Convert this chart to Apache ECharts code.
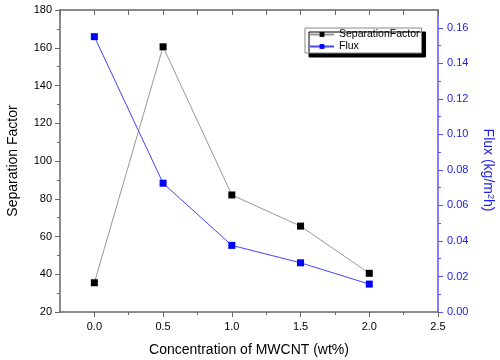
<!DOCTYPE html>
<html><head><meta charset="utf-8">
<script src="https://cdn.jsdelivr.net/npm/echarts@6/dist/echarts.min.js"></script>
<style>html,body{margin:0;padding:0;background:#fff}#c{width:500px;height:360px}</style>
</head><body><div id="c"></div>
<script>
var concentrations = [0.0, 0.5, 1.0, 1.5, 2.0];
var separationFactor = [35.5, 160.5, 82, 65.5, 40.5];
var flux = [0.155, 0.0725, 0.0375, 0.0277, 0.0157];
var xMajorTicks = [0, 0.5, 1.0, 1.5, 2.0, 2.5];
var xMinorTicks = [0.25, 0.75, 1.25, 1.75, 2.25];
var fluxMajorTicks = [0, 0.02, 0.04, 0.06, 0.08, 0.10, 0.12, 0.14, 0.16];
var fluxMinorTicks = [0.01, 0.03, 0.05, 0.07, 0.09, 0.11, 0.13, 0.15];

var FONT = 'Liberation Sans';
var GRAY = '#666';
var BLUE = '#5555ff';
function makeGrid() {
  return {left: 60, right: 62, top: 10, bottom: 48, containLabel: false, outerBoundsMode: 'none'};
}

var chart = echarts.init(document.getElementById('c'), null, {renderer: 'canvas'});
chart.setOption({
  animation: false,
  backgroundColor: '#fff',
  grid: [makeGrid(), makeGrid()],
  legend: {
    left: 305, top: 28,
    orient: 'vertical',
    itemGap: 1,
    itemWidth: 24, itemHeight: 6,
    padding: [1, 2, 1, 4],
    backgroundColor: '#fff',
    borderColor: '#888', borderWidth: 1,
    shadowColor: '#000', shadowBlur: 0, shadowOffsetX: 4, shadowOffsetY: 4,
    textStyle: {fontFamily: FONT, fontSize: 10.5, lineHeight: 10, color: '#000'},
    data: ['SeparationFactor', 'Flux']
  },
  xAxis: [{
    gridIndex: 0, type: 'value', position: 'bottom', min: -0.25, max: 2.5,
    axisLine: {show: true, onZero: false, lineStyle: {color: GRAY, width: 1.5}},
    axisTick: {show: true, inside: false, length: 5, customValues: xMajorTicks, lineStyle: {color: GRAY}},
    axisLabel: {show: true, margin: 9, customValues: xMajorTicks, fontFamily: FONT, fontSize: 11, color: '#000',
      formatter: function(v){ return v.toFixed(1); }},
    splitLine: {show: false},
    name: 'Concentration of MWCNT (wt%)', nameLocation: 'middle', nameGap: 31,
    nameTextStyle: {fontFamily: FONT, fontSize: 14, color: '#000'}
  }, {
    gridIndex: 1, type: 'value', position: 'bottom', min: -0.25, max: 2.5,
    axisLine: {show: false, onZero: false},
    axisTick: {show: true, inside: false, length: 3, customValues: xMinorTicks, lineStyle: {color: GRAY}},
    axisLabel: {show: false},
    splitLine: {show: false}
  }, {
    gridIndex: 1, type: 'value', position: 'top', min: -0.25, max: 2.5, interval: 0.25,
    axisLine: {show: true, onZero: false, lineStyle: {color: GRAY, width: 1.5}},
    axisTick: {show: true, inside: true, length: 5, lineStyle: {color: GRAY}},
    axisLabel: {show: false},
    splitLine: {show: false}
  }],
  yAxis: [{
    gridIndex: 0, type: 'value', position: 'left', min: 20, max: 180, interval: 20,
    axisLine: {show: true, onZero: false, lineStyle: {color: GRAY, width: 1.5}},
    axisTick: {show: true, inside: false, length: 5, lineStyle: {color: GRAY}},
    minorTick: {show: true, splitNumber: 2, length: 3, lineStyle: {color: GRAY}},
    axisLabel: {margin: 8, fontFamily: FONT, fontSize: 11, color: '#000'},
    splitLine: {show: false},
    name: 'Separation Factor', nameLocation: 'middle', nameGap: 40,
    nameTextStyle: {fontFamily: FONT, fontSize: 14, color: '#000'}
  }, {
    gridIndex: 0, type: 'value', position: 'right', min: 0, max: 0.17,
    axisLine: {show: true, onZero: false, lineStyle: {color: BLUE, width: 1.5}},
    axisTick: {show: true, inside: false, length: 5, customValues: fluxMajorTicks, lineStyle: {color: BLUE}},
    axisLabel: {margin: 9, customValues: fluxMajorTicks, fontFamily: FONT, fontSize: 11, color: '#2222ee',
      formatter: function(v){ return v.toFixed(2); }},
    splitLine: {show: false},
    name: 'Flux (kg/m{sup|2}h)', nameLocation: 'middle', nameGap: 42, nameRotate: -90,
    nameTextStyle: {fontFamily: FONT, fontSize: 14, color: '#2222ee', padding: [0, 0, 0, 18],
      rich: {sup: {fontFamily: FONT, fontSize: 9, color: '#2222ee', verticalAlign: 'top', padding: [0,0,6,0]}}}
  }, {
    gridIndex: 1, type: 'value', position: 'right', min: 0, max: 0.17,
    axisLine: {show: false, onZero: false},
    axisTick: {show: true, inside: false, length: 3, customValues: fluxMinorTicks, lineStyle: {color: BLUE}},
    axisLabel: {show: false},
    splitLine: {show: false}
  }],
  series: [{
    name: 'SeparationFactor', type: 'line', xAxisIndex: 0, yAxisIndex: 0,
    data: concentrations.map(function(c, i){ return [c, separationFactor[i]]; }),
    symbol: 'rect', symbolSize: 7,
    itemStyle: {color: '#000'},
    lineStyle: {color: '#999', width: 1},
    z: 3
  }, {
    name: 'Flux', type: 'line', xAxisIndex: 0, yAxisIndex: 1,
    data: concentrations.map(function(c, i){ return [c, flux[i]]; }),
    symbol: 'rect', symbolSize: 7,
    itemStyle: {color: '#0000ff'},
    lineStyle: {color: '#4444ff', width: 1},
    z: 4
  }]
});
</script>
</body></html>
